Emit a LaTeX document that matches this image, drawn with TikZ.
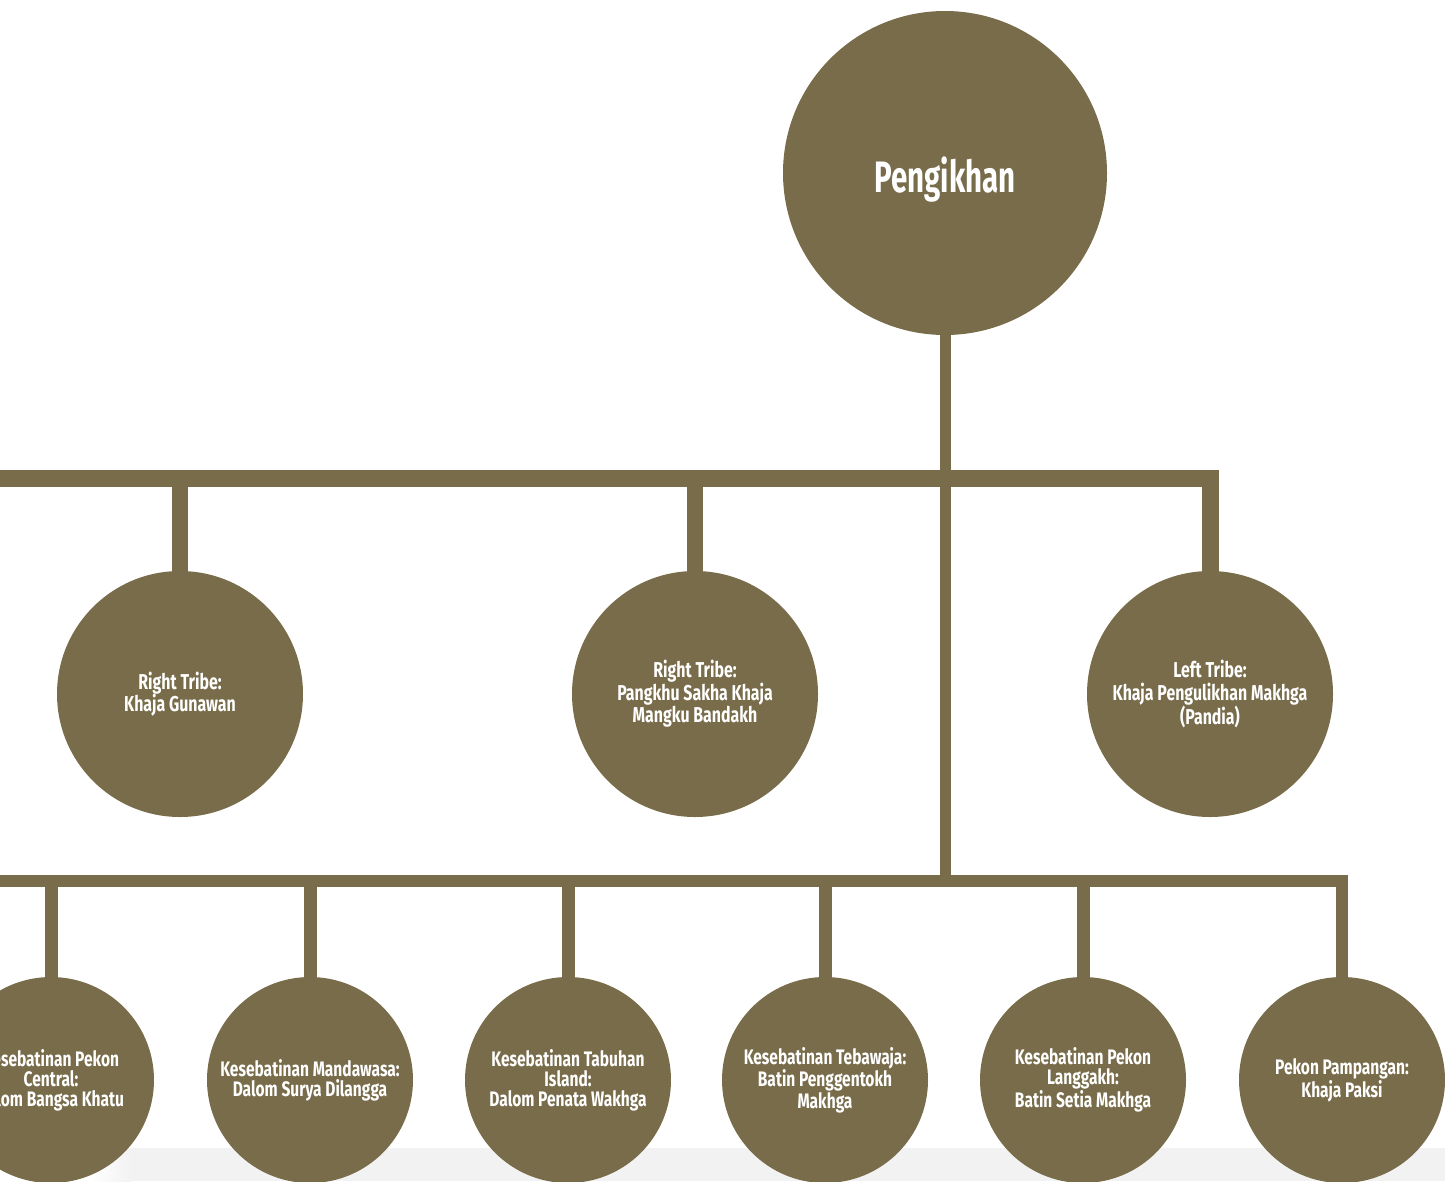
\documentclass[tikz,border=0pt]{standalone}
\usepackage{fontspec}
\newfontfamily\cond[FakeStretch=0.74]{Fira Sans}
\newfontfamily\condbig[FakeStretch=0.67]{Fira Sans}
\usetikzlibrary{backgrounds}
\definecolor{olive}{HTML}{786C4A}
\definecolor{band}{HTML}{F2F2F2}
\begin{document}
\begin{tikzpicture}[x=1pt,y=-1pt,
  bubble/.style={circle, fill=olive, text=white, inner sep=0pt, align=center},
  bigbub/.style={bubble, minimum size=324pt, font=\condbig\bfseries\fontsize{44}{48}\selectfont},
  midbub/.style={bubble, minimum size=246pt, font=\cond\bfseries\fontsize{21.5}{22.5}\selectfont},
  smallbub/.style={bubble, minimum size=206pt, font=\cond\bfseries\fontsize{21}{20}\selectfont},
  conn/.style={draw=olive, line cap=butt, line join=miter}]
\useasboundingbox (0,0) rectangle (1445,1181);
\clip (0,0) rectangle (1445,1181);
\fill[band] (130,1148) rectangle (1445,1181);
\shade[left color=white, right color=band] (90,1148) rectangle (131,1181);

\node[bigbub] (root) at (945,173) {\raisebox{-19pt}[0pt][0pt]{Pengikhan}};
\node[midbub] (m1) at (180,694) {Right Tribe:\\Khaja Gunawan};
\node[midbub] (m2) at (695,694) {Right Tribe:\\Pangkhu Sakha Khaja\\Mangku Bandakh};
\node[midbub] (m3) at (1210,694) {Left Tribe:\\Khaja Pengulikhan Makhga\\(Pandia)};
\node[smallbub] (b1) at (51,1080) {Kesebatinan Pekon\\Central:\\Dalom Bangsa Khatu};
\node[smallbub] (b2) at (310,1080) {Kesebatinan Mandawasa:\\Dalom Surya Dilangga};
\node[smallbub] (b3) at (568,1080) {Kesebatinan Tabuhan\\Island:\\Dalom Penata Wakhga};
\node[smallbub] (b4) at (825,1080) {Kesebatinan Tebawaja:\\Batin Penggentokh\\Makhga};
\node[smallbub] (b5) at (1083,1080) {Kesebatinan Pekon\\Langgakh:\\Batin Setia Makhga};
\node[smallbub] (b6) at (1342,1080) {Pekon Pampangan:\\Khaja Paksi};

\coordinate (barL) at (-30,478.5);
\coordinate (lowL) at (-30,880.5);

\begin{scope}[on background layer]
  \draw[conn, line width=17pt] (barL) -- (m3 |- barL) -- (m3.center);
  \draw[conn, line width=16pt] (m1 |- barL) -- (m1.center);
  \draw[conn, line width=16pt] (m2 |- barL) -- (m2.center);
  \draw[conn, line width=11pt] (root.center) -- (root |- lowL);
  \draw[conn, line width=12pt] (lowL) -- (b6 |- lowL) -- (b6.center);
  \foreach \b in {b1,b2,b3,b4,b5}
    \draw[conn, line width=13pt] (\b |- lowL) -- (\b.center);
\end{scope}
\end{tikzpicture}
\end{document}
